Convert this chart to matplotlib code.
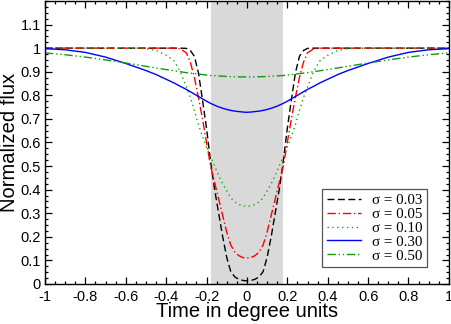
import numpy as np
import matplotlib
matplotlib.use("Agg")
import matplotlib.pyplot as plt
from matplotlib.ticker import MultipleLocator, FixedLocator

# values (left half, the curves are symmetric about 0)
x_half = [-1.0, -0.9, -0.8, -0.7, -0.6, -0.5, -0.45, -0.4, -0.36, -0.33, -0.3, -0.28, -0.26,
          -0.24, -0.22, -0.2, -0.18, -0.16, -0.14, -0.12, -0.1, -0.08, -0.06, -0.04, -0.02, 0.0]

flux_003 = [1.0, 1.0, 1.0, 1.0, 1.0, 1.0, 1.0, 1.0, 1.0, 1.0, 0.999, 0.99, 0.965,
            0.895, 0.78, 0.66, 0.52, 0.40, 0.30, 0.20, 0.113, 0.052, 0.03, 0.02, 0.015, 0.013]
flux_005 = [1.0, 1.0, 1.0, 1.0, 1.0, 1.0, 1.0, 1.0, 1.0, 0.997, 0.98, 0.94, 0.875,
            0.79, 0.70, 0.60, 0.50, 0.43, 0.36, 0.29, 0.22, 0.165, 0.135, 0.12, 0.112, 0.11]
flux_010 = [1.0, 1.0, 1.0, 1.0, 1.0, 0.998, 0.99, 0.97, 0.945, 0.90, 0.835, 0.79, 0.735,
            0.675, 0.625, 0.58, 0.54, 0.50, 0.46, 0.425, 0.395, 0.365, 0.348, 0.337, 0.331, 0.329]
flux_030 = [0.998, 0.993, 0.982, 0.962, 0.935, 0.905, 0.888, 0.868, 0.852, 0.838, 0.825, 0.815, 0.805,
            0.795, 0.785, 0.775, 0.766, 0.758, 0.751, 0.745, 0.740, 0.736, 0.733, 0.731, 0.729, 0.728]
flux_050 = [0.980, 0.972, 0.962, 0.950, 0.937, 0.923, 0.916, 0.909, 0.904, 0.900, 0.896, 0.894, 0.892,
            0.890, 0.888, 0.886, 0.884, 0.883, 0.882, 0.881, 0.880, 0.879, 0.879, 0.878, 0.878, 0.878]

sigmas = ["0.03", "0.05", "0.10", "0.30", "0.50"]
band = [-0.18, 0.18]

x_ticks = [-1, -0.8, -0.6, -0.4, -0.2, 0, 0.2, 0.4, 0.6, 0.8, 1]
x_tick_labels = ["-1", "-0.8", "-0.6", "-0.4", "-0.2", "0", "0.2", "0.4", "0.6", "0.8", "1"]
y_ticks = [0, 0.1, 0.2, 0.3, 0.4, 0.5, 0.6, 0.7, 0.8, 0.9, 1.0, 1.1]
y_tick_labels = ["0", "0.1", "0.2", "0.3", "0.4", "0.5", "0.6", "0.7", "0.8", "0.9", "1", "1.1"]


def mirror(xs, ys):
    xs = np.array(xs)
    ys = np.array(ys)
    return np.concatenate([xs, -xs[-2::-1]]), np.concatenate([ys, ys[-2::-1]])


plt.rcParams['font.family'] = ['Liberation Sans', 'DejaVu Sans']

fig = plt.figure(figsize=(4.52, 3.24), dpi=100)
ax = fig.add_axes([0.0996, 0.1235, 0.8934, 0.8735])

ax.axvspan(band[0], band[1], color='#d9d9d9', lw=0, zorder=0)

styles = [
    ('black', (0, (5, 2.5))),
    ('red', (0, (6, 2, 1, 2))),
    ('#11aa11', (0, (1, 2.5))),
    ('blue', '-'),
    ('#119911', (0, (6, 2, 1, 2, 1, 2))),
]
all_flux = [flux_003, flux_005, flux_010, flux_030, flux_050]

for flux, sig, (col, ls) in zip(all_flux, sigmas, styles):
    xx, yy = mirror(x_half, flux)
    ax.plot(xx, yy, color=col, linestyle=ls, lw=1.0, label='σ = ' + sig)

ax.set_xlim(-1, 1)
ax.set_ylim(0, 1.2)
ax.xaxis.set_major_locator(FixedLocator(x_ticks))
ax.set_xticklabels(x_tick_labels)
ax.yaxis.set_major_locator(FixedLocator(y_ticks))
ax.set_yticklabels(y_tick_labels)
ax.xaxis.set_minor_locator(MultipleLocator(0.05))
ax.yaxis.set_minor_locator(MultipleLocator(0.025))
ax.tick_params(which='both', direction='in', top=True, right=True, labelsize=10.5, width=0.9)
ax.tick_params(which='major', length=5)
ax.tick_params(which='minor', length=2.5)
ax.tick_params(axis='x', pad=4)
ax.tick_params(axis='y', pad=3)
for s in ax.spines.values():
    s.set_linewidth(1.0)

ax.set_xlabel('Time in degree units', fontsize=14.5, labelpad=-1)
ax.set_ylabel('Normalized flux', fontsize=14.5, labelpad=1)

leg = ax.legend(loc='lower right', bbox_to_anchor=(0.945, 0.06), borderaxespad=0,
                fancybox=False,
                prop={'family': ['Liberation Serif', 'DejaVu Serif'], 'size': 10.8},
                handlelength=2.3, handletextpad=0.7, labelspacing=0.02,
                borderpad=0.3, framealpha=1)
leg.get_frame().set_edgecolor('#555555')
leg.get_frame().set_linewidth(0.9)

fig.savefig('out.png', dpi=100)
